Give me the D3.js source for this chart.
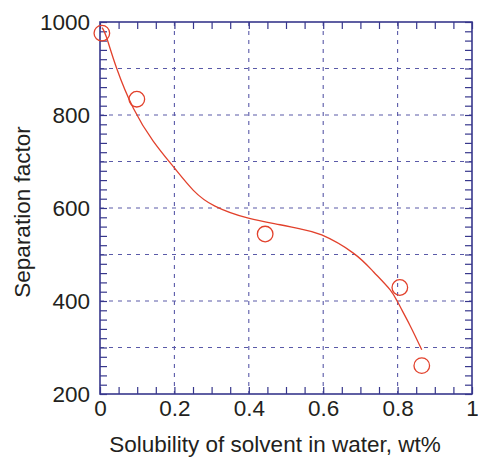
<!DOCTYPE html>
<html>
<head>
<meta charset="utf-8">
<script src="https://cdn.jsdelivr.net/npm/d3@7"></script>
<style>
  html, body { margin: 0; padding: 0; background: #fff; }
  svg { display: block; }
  text { font-family: "Liberation Sans", Arial, sans-serif; fill: #231f20; }
</style>
</head>
<body>
<svg id="chart" width="478" height="458"></svg>
<script>
// Measured points: solubility (wt%) vs separation factor
const solubility = [0.005, 0.099, 0.444, 0.806, 0.865];
const separation = [976, 834, 544, 429, 261];

// Smoothed trend line through the measurements
const trendX = [0.006, 0.018, 0.045, 0.09, 0.143, 0.2, 0.251, 0.309, 0.399, 0.484, 0.538, 0.596, 0.681, 0.735, 0.78, 0.802, 0.833, 0.865];
const trendY = [988, 966, 900, 814, 744, 686, 638, 604, 578, 564, 555, 542, 503, 463, 424, 395, 348, 295];

// Axis ticks
const xTickValues = [0, 0.2, 0.4, 0.6, 0.8, 1];
const xTickLabels = ["0", "0.2", "0.4", "0.6", "0.8", "1"];
const yTickValues = [200, 400, 600, 800, 1000];
const yTickLabels = ["200", "400", "600", "800", "1000"];
const xGridValues = [0.2, 0.4, 0.6, 0.8];
const yGridValues = [300, 400, 500, 600, 700, 800, 900];

const svg = d3.select("#chart");
const plotLeft = 100, plotRight = 472, plotTop = 22, plotBottom = 394;
const frameColor = "#37378c";
const gridColor = "#5a5aa8";
const red = "#e2412c";

const x = d3.scaleLinear().domain([0, 1]).range([plotLeft, plotRight]);
const y = d3.scaleLinear().domain([200, 1000]).range([plotBottom, plotTop]);

// Dashed grid
const grid = svg.append("g");
grid.selectAll("line.gx").data(xGridValues).join("line")
  .attr("x1", d => x(d)).attr("x2", d => x(d))
  .attr("y1", plotTop).attr("y2", plotBottom)
  .attr("stroke", gridColor).attr("stroke-width", 1.1)
  .attr("stroke-dasharray", "4,5");
grid.selectAll("line.gy").data(yGridValues).join("line")
  .attr("x1", plotLeft).attr("x2", plotRight)
  .attr("y1", d => y(d)).attr("y2", d => y(d))
  .attr("stroke", gridColor).attr("stroke-width", 1.1)
  .attr("stroke-dasharray", "4,5");

// Minor ticks on all four sides, pointing inward
const xMinor = d3.range(0, 1.0001, 0.05);
const yMinor = d3.range(200, 1000.01, 20);
const tickLen = 7;

function styleTicks(g) {
  g.select(".domain").remove();
  g.selectAll(".tick line").attr("stroke", frameColor).attr("stroke-width", 1.2);
  g.selectAll(".tick text").remove();
}

svg.append("g").attr("transform", `translate(0,${plotBottom})`)
  .call(d3.axisBottom(x).tickValues(xMinor).tickSize(-tickLen)).call(styleTicks);
svg.append("g").attr("transform", `translate(0,${plotTop})`)
  .call(d3.axisTop(x).tickValues(xMinor).tickSize(-tickLen)).call(styleTicks);
svg.append("g").attr("transform", `translate(${plotLeft},0)`)
  .call(d3.axisLeft(y).tickValues(yMinor).tickSize(-tickLen)).call(styleTicks);
svg.append("g").attr("transform", `translate(${plotRight},0)`)
  .call(d3.axisRight(y).tickValues(yMinor).tickSize(-tickLen)).call(styleTicks);

// Frame
svg.append("rect")
  .attr("x", plotLeft).attr("y", plotTop)
  .attr("width", plotRight - plotLeft).attr("height", plotBottom - plotTop)
  .attr("fill", "none").attr("stroke", frameColor).attr("stroke-width", 1.6);

// Tick labels
const xLab = svg.append("g").attr("transform", `translate(0,${plotBottom})`)
  .call(d3.axisBottom(x).tickValues(xTickValues)
    .tickFormat((d, i) => xTickLabels[i]).tickSize(0).tickPadding(6));
xLab.select(".domain").remove();
xLab.selectAll("text").attr("font-size", 22.5).attr("font-family", "Liberation Sans, Arial, sans-serif").attr("fill", "#231f20");

const yLab = svg.append("g").attr("transform", `translate(${plotLeft},0)`)
  .call(d3.axisLeft(y).tickValues(yTickValues)
    .tickFormat((d, i) => yTickLabels[i]).tickSize(0).tickPadding(10));
yLab.select(".domain").remove();
yLab.selectAll("text").attr("font-size", 22.5).attr("font-family", "Liberation Sans, Arial, sans-serif").attr("fill", "#231f20");

// Axis titles
svg.append("text")
  .attr("x", 275).attr("y", 452)
  .attr("text-anchor", "middle").attr("font-size", 22.5)
  .text("Solubility of solvent in water, wt%");
svg.append("text")
  .attr("transform", "translate(30,212) rotate(-90)")
  .attr("text-anchor", "middle").attr("font-size", 22.5)
  .text("Separation factor");

// Trend line
const line = d3.line().x(d => x(d[0])).y(d => y(d[1])).curve(d3.curveNatural);
svg.append("path")
  .datum(trendX.map((v, i) => [v, trendY[i]]))
  .attr("d", line)
  .attr("fill", "none").attr("stroke", red).attr("stroke-width", 1.3);

// Open circle markers
svg.selectAll("circle.pt").data(solubility.map((v, i) => [v, separation[i]])).join("circle")
  .attr("cx", d => x(d[0])).attr("cy", d => y(d[1])).attr("r", 7.8)
  .attr("fill", "none").attr("stroke", red).attr("stroke-width", 1.3);
</script>
</body>
</html>
